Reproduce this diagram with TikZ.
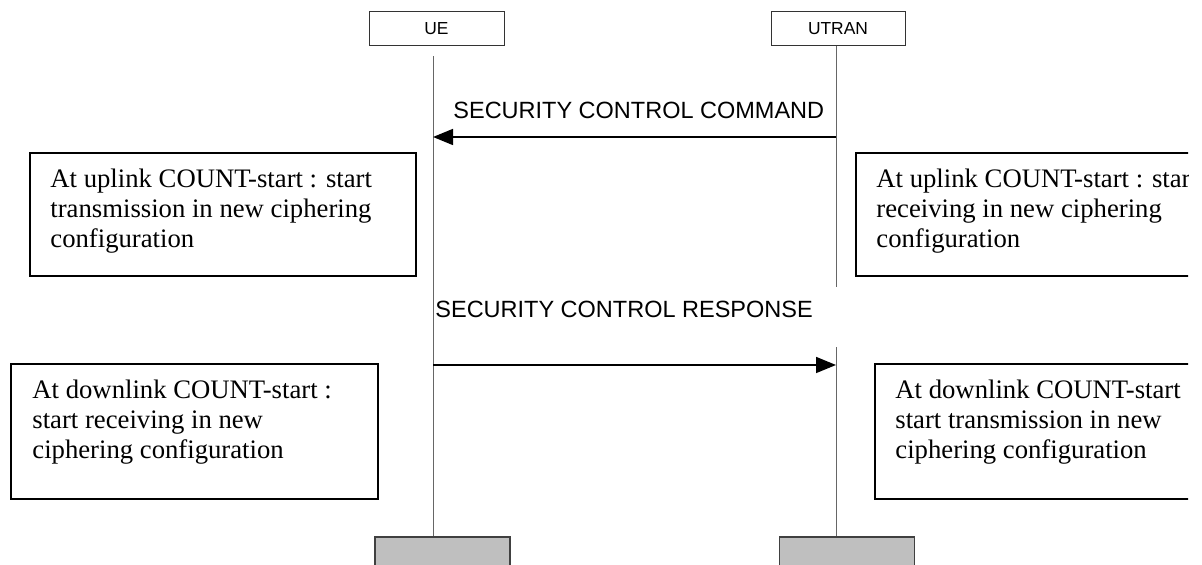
\documentclass[tikz,border=0pt]{standalone}
\usepackage{fontspec}
\setmainfont{Liberation Serif}
\newfontfamily\arialfont{Liberation Sans}
\usetikzlibrary{arrows.meta}

\begin{document}
\begin{tikzpicture}[x=0.5pt, y=-0.5pt,
    entity/.style={draw=black!80, line width=0.5pt, fill=white, minimum width=67.5pt, minimum height=17pt, inner sep=0pt, font=\arialfont\fontsize{8.7}{10}\selectfont},
    endbox/.style={draw=black!75, line width=0.7pt, fill=gray!50, minimum width=67.5pt, minimum height=19pt, inner sep=0pt},
    life/.style={black!60, line width=0.5pt},
    msg/.style={line width=0.8pt, -{Triangle[length=10pt, width=8pt]}},
    msgtext/.style={inner sep=0pt, font=\arialfont\fontsize{11.75}{14}\selectfont},
    note/.style={draw, line width=1pt, anchor=north west, inner sep=0pt, minimum height=#1},
    notetext/.style={anchor=north west, inner sep=0pt, align=left, font=\fontsize{13.35}{15}\selectfont}]
  \useasboundingbox (0,0) rectangle (1202,565);
  \begin{scope}
  \clip (0,0) rectangle (1188,565);

  % Entities
  \node[entity] (ue) at (436.5,29) {UE};
  \node[entity, minimum width=67pt] (utran) at (838,29) {UTRAN};
  \node[endbox] (uebot) at (442.5,556) {};
  \node[endbox] (utranbot) at (847,556) {};

  % Lifelines
  \coordinate (uecmd) at (433,137);
  \coordinate (utcmd) at (836,137);
  \coordinate (uersp) at (433,365);
  \coordinate (utrsp) at (836,365);
  \draw[life] ([yshift=-5pt]ue.south -| uecmd) -- (uebot.north -| uecmd);
  \draw[life] (utran.south -| utcmd) -- (utranbot.north -| utcmd);

  % Messages
  \draw[msg] (utcmd) -- (uecmd);
  \node[msgtext, anchor=base west] (cmdlbl) at (453,119) {SECURITY CONTROL COMMAND};
  \node[fill=white, anchor=north west, inner sep=0pt, minimum width=201.5pt, minimum height=30pt] (rsp) at (434,287) {};
  \node[msgtext, anchor=base west] (rsplbl) at ([shift={(1,31)}]rsp.north west) {SECURITY CONTROL RESPONSE};
  \draw[msg] (uersp) -- (utrsp);

  % Notes, uplink
  \node[note=61.5pt, minimum width=193pt] (ueup) at (29,152) {};
  \node[notetext] at ([shift={(21,16.5)}]ueup.north west) {At uplink COUNT-start : start\\transmission in new ciphering\\configuration};
  \node[note=61.5pt, minimum width=193pt] (utranup) at (855,152) {};
  \node[notetext] at ([shift={(21,16.5)}]utranup.north west) {At uplink COUNT-start : start\\receiving in new ciphering\\configuration};

  % Notes, downlink
  \node[note=67.5pt, minimum width=183.5pt] (uedown) at (10,363) {};
  \node[notetext] at ([shift={(22,16.5)}]uedown.north west) {At downlink COUNT-start :\\start receiving in new\\ciphering configuration};
  \node[note=67.5pt, minimum width=183.5pt] (utrandown) at (874,363) {};
  \node[notetext] at ([shift={(21,16.5)}]utrandown.north west) {At downlink COUNT-start\\start transmission in new\\ciphering configuration};
  \end{scope}
\end{tikzpicture}
\end{document}
